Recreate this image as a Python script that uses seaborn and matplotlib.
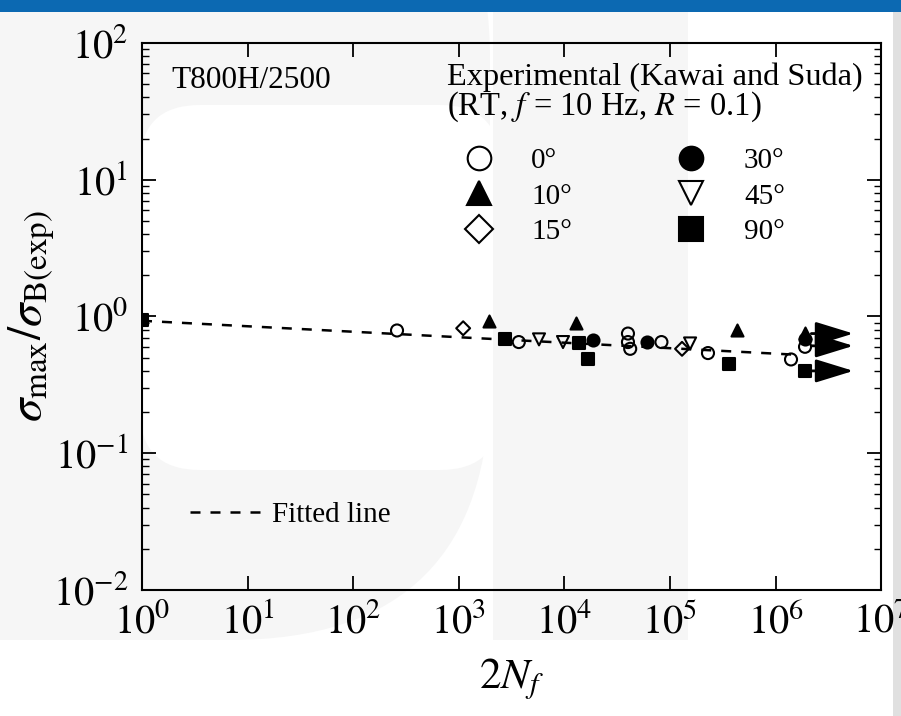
import numpy as np
import pandas as pd
import matplotlib
matplotlib.use("Agg")
import matplotlib.pyplot as plt
import matplotlib.patches as mpatches
from matplotlib.lines import Line2D
import seaborn as sns

# Daten
angles = ["0°", "10°", "15°", "30°", "45°", "90°"]

cyc_0 = [260, 3700, 40000, 40000, 42000, 83000, 229000, 1.4e6]
rat_0 = [0.79, 0.65, 0.75, 0.65, 0.58, 0.65, 0.54, 0.485]
cyc_10 = [1940, 12900, 428000]
rat_10 = [0.92, 0.89, 0.79]
cyc_15 = [1100, 130000]
rat_15 = [0.82, 0.58]
cyc_30 = [18600, 60500]
rat_30 = [0.67, 0.65]
cyc_45 = [5750, 9700, 155000]
rat_45 = [0.68, 0.65, 0.635]
cyc_90 = [1, 2750, 13700, 16700, 363000]
rat_90 = [0.95, 0.68, 0.635, 0.49, 0.45]

# Durchläufer (run-outs) mit Pfeil
runout_angle = ["10°", "30°", "0°", "90°"]
runout_cyc = [1.9e6, 1.9e6, 1.9e6, 1.9e6]
runout_rat = [0.76, 0.68, 0.60, 0.40]
arrow_rat = [0.75, 0.61, 0.40]
arrow_end = 5.8e6

# Ausgleichsgerade (Endpunkte)
fit_x = [1, 1.5e6]
fit_y = [0.93, 0.526]

groups = {"0°": (cyc_0, rat_0), "10°": (cyc_10, rat_10), "15°": (cyc_15, rat_15),
          "30°": (cyc_30, rat_30), "45°": (cyc_45, rat_45), "90°": (cyc_90, rat_90)}
rows = []
for a, (c, r) in groups.items():
    rows += [(a, ci, ri) for ci, ri in zip(c, r)]
rows += list(zip(runout_angle, runout_cyc, runout_rat))
df = pd.DataFrame(rows, columns=["angle", "cycles", "ratio"])

marker_style = {
    "0°": ("o", "none"),
    "10°": ("^", "black"),
    "15°": ("D", "none"),
    "30°": ("o", "black"),
    "45°": ("v", "none"),
    "90°": ("s", "black"),
}

sns.set_style("ticks")
plt.rcParams["font.family"] = ["Liberation Serif", "DejaVu Serif"]
plt.rcParams["mathtext.fontset"] = "stix"
plt.rcParams["text.color"] = "black"
plt.rcParams["axes.labelcolor"] = "black"
plt.rcParams["xtick.color"] = "black"
plt.rcParams["ytick.color"] = "black"

fig = plt.figure(figsize=(9.01, 7.16), dpi=100)

# Hintergrund (Banner, Wasserzeichen)
bg = fig.add_axes([0, 0, 1, 1], zorder=-5)
bg.set_xlim(0, 901)
bg.set_ylim(716, 0)
bg.axis("off")
grey = "#f6f6f6"
bg.add_patch(mpatches.FancyBboxPatch((-300, -200), 790, 840, boxstyle="round,pad=0,rounding_size=260",
                                     fc=grey, ec="none"))
bg.add_patch(mpatches.FancyBboxPatch((140, 105), 360, 365, boxstyle="round,pad=0,rounding_size=60",
                                     fc="white", ec="none"))
bg.add_patch(mpatches.Rectangle((493, 12), 195, 628, fc=grey, ec="none"))
bg.add_patch(mpatches.Rectangle((0, 0), 901, 12, fc="#0c69b2", ec="none"))
bg.add_patch(mpatches.Rectangle((893, 12), 8, 704, fc="#e0e0e0", ec="none"))

ax = fig.add_axes([0.1576, 0.176, 0.8204, 0.764])
ax.patch.set_alpha(0)

ax.plot(fit_x, fit_y, ls=(0, (4, 4)), color="black", lw=1.8, zorder=1)

for a in angles:
    m, fc = marker_style[a]
    sub = df[df["angle"] == a]
    sns.scatterplot(data=sub, x="cycles", y="ratio", marker=m, s=75 if m != "D" else 50,
                    facecolor=fc, edgecolor="black", linewidth=1.5, ax=ax, zorder=3)

for y in arrow_rat:
    ax.annotate("", xy=(arrow_end, y), xytext=(runout_cyc[0] * 1.08, y),
                arrowprops=dict(arrowstyle="-|>,head_length=1.3,head_width=0.4",
                                mutation_scale=18, lw=2, color="black"))

ax.set_xscale("log")
ax.set_yscale("log")
ax.set_xlim(1, 1e7)
ax.set_ylim(1e-2, 1e2)
ax.set_xticks([10.0 ** k for k in range(8)])
ax.set_yticks([10.0 ** k for k in range(-2, 3)])
ax.set_xticklabels([f"$10^{{{k}}}$" for k in range(8)])
ax.set_yticklabels([f"$10^{{{k}}}$" for k in range(-2, 3)])
ax.tick_params(which="both", direction="in", top=True, right=True, colors="black")
ax.tick_params(which="major", length=10, width=1.3, labelsize=29, pad=10)
ax.tick_params(which="minor", length=5, width=1.0)
for sp in ax.spines.values():
    sp.set_linewidth(1.5)
    sp.set_color("black")

ax.set_xlabel("$2N_f$", fontsize=31, labelpad=10)
ax.set_ylabel(r"$\sigma_{\rm max}/\sigma_{\rm B(exp)}$", fontsize=34, labelpad=-3)

ax.text(0.040, 0.932, "T800H/2500", transform=ax.transAxes, fontsize=22.5, va="center", ha="left")
ax.text(0.412, 0.938, "Experimental (Kawai and Suda)", transform=ax.transAxes, fontsize=23.3,
        va="center", ha="left")
ax.text(0.412, 0.884, "(RT, $f$ = 10 Hz, $R$ = 0.1)", transform=ax.transAxes, fontsize=23.5,
        va="center", ha="left")

handles = []
for a in angles:
    m, fc = marker_style[a]
    handles.append(Line2D([], [], ls="none", marker=m, ms=17 if m != "D" else 14,
                          markerfacecolor=fc, markeredgecolor="black", markeredgewidth=1.5))
leg = ax.legend(handles, angles, ncol=2, loc="upper left", bbox_to_anchor=(0.40, 0.857),
                frameon=False, fontsize=21, handlelength=1.0, handletextpad=1.3,
                columnspacing=3.6, labelspacing=0.32)
ax.add_artist(leg)

fit_handle = Line2D([], [], ls=(0, (4, 4)), color="black", lw=1.8)
ax.legend([fit_handle], ["Fitted line"], loc="lower left", bbox_to_anchor=(0.03, 0.065),
          frameon=False, fontsize=21, handlelength=2.6, handletextpad=0.2)

fig.savefig("out.png", dpi=100)
